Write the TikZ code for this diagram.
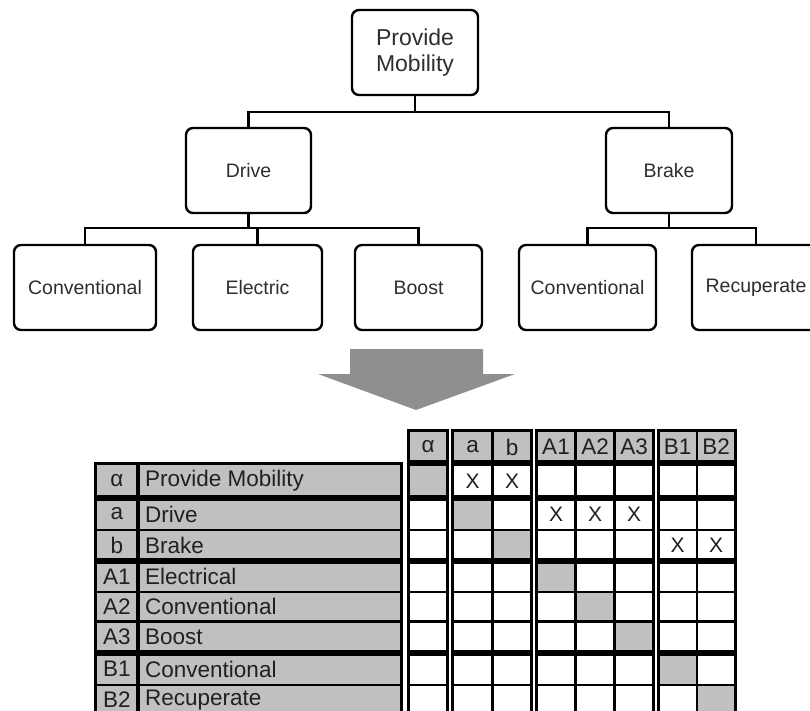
\documentclass[tikz,border=0pt]{standalone}
\usepackage{fontspec}
\setmainfont{Liberation Sans}
\definecolor{ink}{HTML}{2E2E2E}
\definecolor{tabink}{HTML}{202020}
\definecolor{cellgray}{HTML}{C0C0C0}
\definecolor{arrowgray}{HTML}{8F8F8F}
\begin{document}
\begin{tikzpicture}[x=1pt,y=-1pt,
  treebox/.style={draw=black, line width=2.4pt, rounded corners=7pt, fill=white,
    text=ink, align=center, inner sep=0pt, minimum height=85pt,
    font=\fontsize{19.5}{22}\selectfont},
  link/.style={draw=black, line width=2.4pt},
  thinrule/.style={draw=black, line width=2.4pt},
  thickrule/.style={draw=black, line width=6pt},
  frame/.style={draw=black, line width=3pt},
  celltext/.style={text=tabink, inner sep=0pt, font=\fontsize{22.5}{25}\selectfont},
  marktext/.style={text=tabink, inner sep=0pt, font=\fontsize{21}{24}\selectfont},
]
\useasboundingbox (0,0) rectangle (810,711);
\clip (0,0) rectangle (810,711);

% ---------- function tree ----------
\node[treebox, minimum width=126pt, font=\fontsize{23}{25.5}\selectfont] (pm) at (415,52.5) {Provide\\Mobility};
\node[treebox, minimum width=125pt] (drive) at (248.5,170.5) {Drive};
\node[treebox, minimum width=126pt] (brake) at (669,170.5) {Brake};
\node[treebox, minimum width=142pt] (dconv) at (85,287.5) {Conventional};
\node[treebox, minimum width=129pt] (delec) at (257.5,287.5) {Electric};
\node[treebox, minimum width=127pt] (dboost) at (418.5,287.5) {Boost};
\node[treebox, minimum width=137pt] (bconv) at (587.5,287.5) {Conventional};
\node[treebox, minimum width=128pt] (brecup) at (756,287.5) {Recuperate};

\coordinate (j1) at (415,112);
\coordinate (j2) at (248.5,228);
\coordinate (j3) at (669,228);
\draw[link] (pm) -- (j1);
\draw[link] (drive.north) |- (j1) -| (brake.north);
\draw[link] (drive) -- (j2);
\draw[link] (dconv.north) |- (j2) -| (dboost.north);
\draw[link] (delec.north) -- (delec.north |- j2);
\draw[link] (brake) -- (j3);
\draw[link] (bconv.north) |- (j3) -| (brecup.north);

% ---------- block arrow ----------
\fill[arrowgray] (350,349) -- (483,349) -- (483,374) -- (515,374) -- (416,410)
  -- (318,374) -- (350,374) -- cycle;

% ---------- matrix ----------
\def\rA{430.5}
\def\rB{463.3}
\def\rC{498}
\def\rD{530}
\def\rE{561}
\def\rF{592}
\def\rG{621.5}
\def\rH{653}
\def\rI{685}
\def\rJ{716}

% row label table
\fill[cellgray] (95.5,\rB) rectangle (401.5,\rJ);
\foreach \yy in {\rD,\rF,\rG,\rI} \draw[thinrule] (95.5,\yy) -- (401.5,\yy);
\foreach \yy in {\rC,\rE,\rH} \draw[thickrule] (95.5,\yy) -- (401.5,\yy);
\draw[black, line width=4pt] (138,\rB) -- (138,\rJ);
\draw[frame] (95.5,\rB) rectangle (401.5,\rJ);

% diagonal cells
\fill[cellgray] (408.5,\rB) rectangle (447.5,\rC);
\fill[cellgray] (452.5,\rC) rectangle (492.5,\rD);
\fill[cellgray] (492.5,\rD) rectangle (531.5,\rE);
\fill[cellgray] (536.5,\rE) rectangle (575.5,\rF);
\fill[cellgray] (575.5,\rF) rectangle (614.5,\rG);
\fill[cellgray] (614.5,\rG) rectangle (653.5,\rH);
\fill[cellgray] (658,\rH) rectangle (697,\rI);
\fill[cellgray] (697,\rI) rectangle (735.5,\rJ);

% column groups
\foreach \l/\r in {408.5/447.5, 452.5/531.5, 536.5/653.5, 658/735.5} {
  \fill[cellgray] (\l,\rA) rectangle (\r,\rB);
  \foreach \yy in {\rD,\rF,\rG,\rI} \draw[thinrule] (\l,\yy) -- (\r,\yy);
  \foreach \yy in {\rB,\rC,\rE,\rH} \draw[thickrule] (\l,\yy) -- (\r,\yy);
}
\foreach \xx in {492.5,575.5,614.5,697} \draw[thinrule] (\xx,\rA) -- (\xx,\rJ);
\foreach \l/\r in {408.5/447.5, 452.5/531.5, 536.5/653.5, 658/735.5}
  \draw[frame] (\l,\rA) rectangle (\r,\rJ);

% column headers
\node[celltext] (h0) at (428,447) {α};
\node[celltext] (h1) at (472.5,447) {a};
\node[celltext] (h2) at (512,447) {b};
\node[celltext] (h3) at (556,447) {A1};
\node[celltext] (h4) at (595,447) {A2};
\node[celltext] (h5) at (634,447) {A3};
\node[celltext] (h6) at (677.5,447) {B1};
\node[celltext] (h7) at (716,447) {B2};

% row labels
\foreach \nm/\idx/\txt/\yy in {r0/α/Provide Mobility/481, r1/a/Drive/514,
    r2/b/Brake/545.5, r3/A1/Electrical/576.5, r4/A2/Conventional/606.7,
    r5/A3/Boost/637.2, r6/B1/Conventional/669, r7/B2/Recuperate/700} {
  \node[celltext] (\nm i) at (117,\yy) {\idx};
  \node[celltext, anchor=west] (\nm n) at (145,\yy) {\txt};
}

% dependency marks
\node[marktext] (x01) at (472.5,481) {X};
\node[marktext] (x02) at (512,481) {X};
\node[marktext] (x13) at (556,514) {X};
\node[marktext] (x14) at (595,514) {X};
\node[marktext] (x15) at (634,514) {X};
\node[marktext] (x26) at (677.5,545.5) {X};
\node[marktext] (x27) at (716,545.5) {X};
\end{tikzpicture}
\end{document}
